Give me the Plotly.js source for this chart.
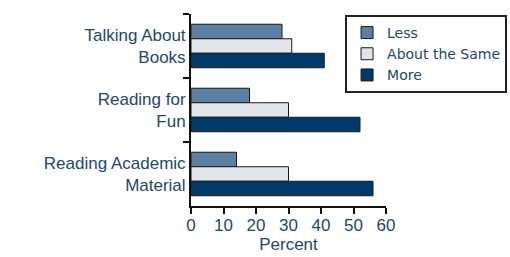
<!DOCTYPE html>
<html><head><meta charset="utf-8">
<script src="https://cdn.plot.ly/plotly-3.0.1.min.js"></script>
<style>html,body{margin:0;padding:0;background:#fff;}#c{width:510px;height:257px;}</style>
</head><body><div id="c"></div>
<script>
const categories = ["Talking About<br>Books", "Reading for<br>Fun", "Reading Academic<br>Material"];
const seriesNames = ["Less", "About the Same", "More"];
const lessVals = [28, 18, 14];
const sameVals = [31, 30, 30];
const moreVals = [41, 52, 56];
const xTicks = [0, 10, 20, 30, 40, 50, 60];
const colors = ["#5e80a0", "#e1e5ec", "#003a6a"];
const txt = "#1d4770";
const fnt = "Liberation Sans, Arial, sans-serif";
const lfnt = "DejaVu Sans, Verdana, sans-serif";

const vals = [lessVals, sameVals, moreVals];
const traces = seriesNames.map((n, i) => ({
  type: "bar", orientation: "h", name: n, y: categories, x: vals[i],
  marker: {color: colors[i], line: {color: "#1a1a1a", width: 1}}
}));

const layout = {
  width: 510, height: 257,
  margin: {l: 191, r: 124, t: 14, b: 51, autoexpand: false},
  paper_bgcolor: "#fff", plot_bgcolor: "#fff",
  barmode: "group", bargap: 0.32, bargroupgap: 0,
  font: {family: fnt, size: 17, color: txt},
  showlegend: true,
  legend: {x: 0.79, xanchor: "left", y: 0.995, yanchor: "top",
    bordercolor: "#222", borderwidth: 2, bgcolor: "#fff",
    font: {family: lfnt, size: 14, color: txt}, tracegroupgap: 0, itemwidth: 30},
  xaxis: {range: [0, 60], tickvals: xTicks, ticktext: xTicks.map(String),
    showgrid: false, zeroline: false, showline: true, linecolor: "#111", linewidth: 2,
    ticks: "outside", ticklen: 6, tickcolor: "#111", tickwidth: 2, ticklabelstandoff: -3,
    tickfont: {family: fnt, size: 17, color: txt},
    title: {text: "Percent", font: {family: fnt, size: 17, color: txt}, standoff: 2}},
  yaxis: {autorange: "reversed", showgrid: false, zeroline: false, showline: true,
    linecolor: "#111", linewidth: 2, ticks: "outside", tickson: "boundaries",
    ticklen: 6, tickcolor: "#111", tickwidth: 2,
    tickfont: {family: fnt, size: 17, color: txt}}
};
Plotly.newPlot("c", traces, layout, {displayModeBar: false, staticPlot: true});
</script></body></html>
